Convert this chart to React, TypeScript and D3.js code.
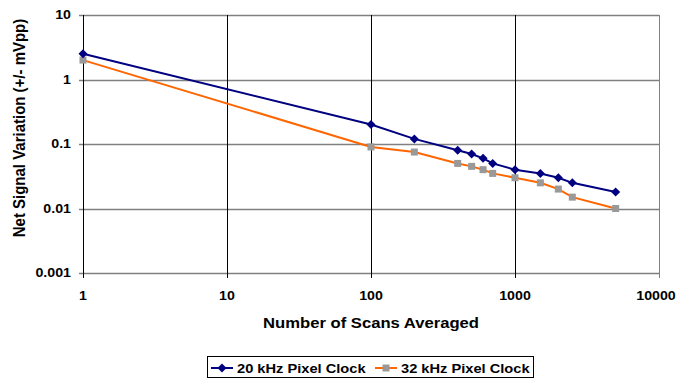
import React, { useEffect, useRef } from 'react';
import * as d3 from 'd3';

const scans = [1, 100, 200, 400, 500, 600, 700, 1000, 1500, 2000, 2500, 5000];
const clock20 = [2.5, 0.2, 0.12, 0.08, 0.07, 0.06, 0.05, 0.04, 0.035, 0.03, 0.025, 0.018];
const clock32 = [2.0, 0.09, 0.075, 0.05, 0.045, 0.04, 0.035, 0.03, 0.025, 0.02, 0.015, 0.01];
const xTicks = [1, 10, 100, 1000, 10000];
const yTicks = [0.001, 0.01, 0.1, 1, 10];
const seriesNames = ['20 kHz Pixel Clock', '32 kHz Pixel Clock'];

const W = 680;
const H = 378;
const FONT = '"Liberation Sans", Arial, sans-serif';
const SX = 1.11; // glyphs in the source look a bit wide

const App: React.FC = () => {
  const svgRef = useRef<SVGSVGElement>(null);

  useEffect(() => {
    if (!svgRef.current) return;
    const svg = d3.select(svgRef.current);
    svg.selectAll('*').remove();

    const x = d3.scaleLog().domain([1, 10000]).range([83, 659]);
    const y = d3.scaleLog().domain([0.001, 10]).range([273, 15]);
    const [x0, x1] = x.range();
    const [y0, y1] = y.range();

    const label = (
      px: number, py: number, str: string, size: number,
      anchor = 'middle', rotate = 0
    ) => {
      svg.append('g')
        .attr('transform', `translate(${px},${py}) scale(${SX},1) rotate(${rotate})`)
        .append('text')
        .attr('text-anchor', anchor)
        .attr('dy', '0.35em')
        .style('font-family', FONT)
        .style('font-weight', 'bold')
        .style('font-size', `${size}px`)
        .style('fill', '#000')
        .text(str);
    };

    // horizontal grid
    svg.append('g').selectAll('line')
      .data(yTicks)
      .enter().append('line')
      .attr('x1', x0 - 4).attr('x2', x1)
      .attr('y1', d => Math.round(y(d)) + 0.5).attr('y2', d => Math.round(y(d)) + 0.5)
      .attr('stroke', '#808080')
      .attr('stroke-width', 1.3);

    // vertical grid
    svg.append('g').selectAll('line')
      .data(xTicks)
      .enter().append('line')
      .attr('x1', d => Math.round(x(d)) + 0.5).attr('x2', d => Math.round(x(d)) + 0.5)
      .attr('y1', y1).attr('y2', y0 + 5)
      .attr('stroke', d => (d === 10000 ? '#808080' : '#000'))
      .attr('stroke-width', 1);

    // y axis line
    svg.append('line')
      .attr('x1', x0 + 0.5).attr('x2', x0 + 0.5)
      .attr('y1', y1).attr('y2', y0 + 5)
      .attr('stroke', '#000');

    // tick labels
    yTicks.forEach(t => label(71, y(t), String(t), 12.8, 'end'));
    xTicks.forEach(t => label(x(t) + (t === 10000 ? -3 : 0), 296, String(t), 12.8));

    // axis titles
    label(371, 323, 'Number of Scans Averaged', 15);
    label(19, 128, 'Net Signal Variation (+/- mVpp)', 15, 'middle', -90);

    const line = d3.line<number>()
      .x((_, i) => x(scans[i]))
      .y(d => y(d));

    const diamond = d3.symbol().type(d3.symbolDiamond2).size(52);

    // 32 kHz
    svg.append('path')
      .attr('d', line(clock32))
      .attr('fill', 'none')
      .attr('stroke', '#FF6600')
      .attr('stroke-width', 2);
    svg.append('g').selectAll('rect')
      .data(clock32)
      .enter().append('rect')
      .attr('x', (_, i) => x(scans[i]) - 3.5)
      .attr('y', d => y(d) - 3.5)
      .attr('width', 7).attr('height', 7)
      .attr('fill', '#999999');

    // 20 kHz
    svg.append('path')
      .attr('d', line(clock20))
      .attr('fill', 'none')
      .attr('stroke', '#000080')
      .attr('stroke-width', 2);
    svg.append('g').selectAll('path')
      .data(clock20)
      .enter().append('path')
      .attr('d', diamond as any)
      .attr('transform', (d, i) => `translate(${x(scans[i])},${y(d)})`)
      .attr('fill', '#000080');

    // legend
    const lg = svg.append('g');
    lg.append('rect')
      .attr('x', 207.5).attr('y', 356.5)
      .attr('width', 326).attr('height', 21)
      .attr('fill', '#fff')
      .attr('stroke', '#000');
    const items = [
      { name: seriesNames[0], color: '#000080', lx: 211, tx: 237, marker: 'diamond' },
      { name: seriesNames[1], color: '#FF6600', lx: 375, tx: 401, marker: 'square' }
    ];
    items.forEach(it => {
      lg.append('line')
        .attr('x1', it.lx).attr('x2', it.lx + 22)
        .attr('y1', 368).attr('y2', 368)
        .attr('stroke', it.color)
        .attr('stroke-width', 2);
      if (it.marker === 'diamond') {
        lg.append('path')
          .attr('d', diamond as any)
          .attr('transform', `translate(${it.lx + 11},368)`)
          .attr('fill', it.color);
      } else {
        lg.append('rect')
          .attr('x', it.lx + 7.5).attr('y', 364.5)
          .attr('width', 7).attr('height', 7)
          .attr('fill', '#999999');
      }
      label(it.tx, 368, it.name, 13.2, 'start');
    });
  }, []);

  return (
    <div style={{ position: 'absolute', left: 0, top: 0 }}>
      <svg ref={svgRef} width={W} height={H} style={{ display: 'block', background: '#fff' }} />
    </div>
  );
};

export default App;
